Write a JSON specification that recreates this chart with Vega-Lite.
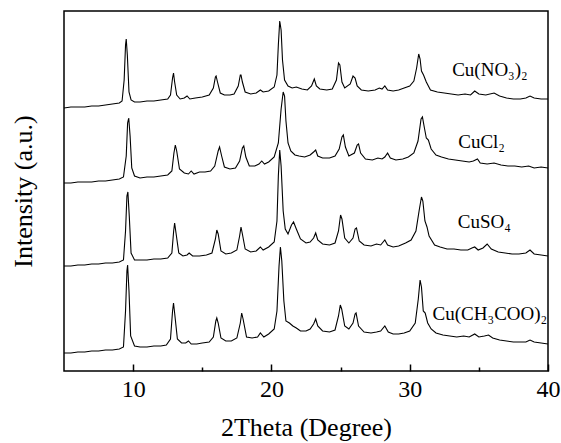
{
  "$schema": "https://vega.github.io/schema/vega-lite/v6.json",
  "width": 484,
  "height": 360,
  "autosize": {"type": "none"},
  "padding": {"left": 64, "top": 11, "right": 13, "bottom": 72},
  "background": "white",
  "config": {
    "font": "Liberation Serif",
    "view": {"stroke": "black", "strokeWidth": 1.5},
    "axis": {"grid": false, "domain": false, "labelFont": "Liberation Serif", "titleFont": "Liberation Serif", "labelColor": "black", "titleColor": "black", "titleFontWeight": "normal"}
  },
  "datasets": {
    "xrd": [
      {"s":"a","x":5.0,"y":263},{"s":"a","x":5.5,"y":264},{"s":"a","x":6.0,"y":264},{"s":"a","x":6.5,"y":264},{"s":"a","x":7.0,"y":265},{"s":"a","x":7.5,"y":265},{"s":"a","x":8.0,"y":266},{"s":"a","x":8.5,"y":267},{"s":"a","x":9.0,"y":268},{"s":"a","x":9.2,"y":270},{"s":"a","x":9.35,"y":291},{"s":"a","x":9.45,"y":326},{"s":"a","x":9.5,"y":332},{"s":"a","x":9.58,"y":316},{"s":"a","x":9.7,"y":279},{"s":"a","x":9.85,"y":271},{"s":"a","x":10.1,"y":269},{"s":"a","x":10.5,"y":269},{"s":"a","x":11.0,"y":270},{"s":"a","x":11.5,"y":270},{"s":"a","x":12.0,"y":271},{"s":"a","x":12.5,"y":272},{"s":"a","x":12.7,"y":276},{"s":"a","x":12.85,"y":293},{"s":"a","x":12.92,"y":298},{"s":"a","x":13.0,"y":289},{"s":"a","x":13.15,"y":276},{"s":"a","x":13.4,"y":272},{"s":"a","x":13.7,"y":273},{"s":"a","x":13.9,"y":275},{"s":"a","x":14.1,"y":272},{"s":"a","x":14.5,"y":273},{"s":"a","x":15.0,"y":274},{"s":"a","x":15.5,"y":276},{"s":"a","x":15.8,"y":283},{"s":"a","x":15.95,"y":294},{"s":"a","x":16.0,"y":295},{"s":"a","x":16.1,"y":289},{"s":"a","x":16.3,"y":278},{"s":"a","x":16.6,"y":276},{"s":"a","x":17.0,"y":276},{"s":"a","x":17.3,"y":277},{"s":"a","x":17.6,"y":285},{"s":"a","x":17.75,"y":296},{"s":"a","x":17.8,"y":296},{"s":"a","x":17.9,"y":289},{"s":"a","x":18.1,"y":279},{"s":"a","x":18.5,"y":277},{"s":"a","x":18.9,"y":278},{"s":"a","x":19.2,"y":281},{"s":"a","x":19.4,"y":279},{"s":"a","x":19.8,"y":280},{"s":"a","x":20.2,"y":284},{"s":"a","x":20.4,"y":296},{"s":"a","x":20.5,"y":326},{"s":"a","x":20.6,"y":350},{"s":"a","x":20.7,"y":341},{"s":"a","x":20.8,"y":311},{"s":"a","x":20.95,"y":291},{"s":"a","x":21.2,"y":285},{"s":"a","x":21.5,"y":283},{"s":"a","x":21.8,"y":284},{"s":"a","x":22.2,"y":282},{"s":"a","x":22.6,"y":281},{"s":"a","x":22.9,"y":285},{"s":"a","x":23.1,"y":292},{"s":"a","x":23.25,"y":285},{"s":"a","x":23.5,"y":282},{"s":"a","x":24.0,"y":281},{"s":"a","x":24.4,"y":282},{"s":"a","x":24.7,"y":291},{"s":"a","x":24.85,"y":308},{"s":"a","x":24.95,"y":306},{"s":"a","x":25.1,"y":289},{"s":"a","x":25.3,"y":283},{"s":"a","x":25.7,"y":287},{"s":"a","x":25.9,"y":295},{"s":"a","x":26.05,"y":293},{"s":"a","x":26.2,"y":285},{"s":"a","x":26.5,"y":281},{"s":"a","x":27.0,"y":280},{"s":"a","x":27.5,"y":281},{"s":"a","x":27.8,"y":283},{"s":"a","x":28.0,"y":282},{"s":"a","x":28.2,"y":285},{"s":"a","x":28.4,"y":281},{"s":"a","x":28.8,"y":280},{"s":"a","x":29.2,"y":281},{"s":"a","x":29.6,"y":283},{"s":"a","x":30.0,"y":285},{"s":"a","x":30.3,"y":290},{"s":"a","x":30.5,"y":303},{"s":"a","x":30.65,"y":317},{"s":"a","x":30.75,"y":312},{"s":"a","x":30.85,"y":300},{"s":"a","x":31.0,"y":296},{"s":"a","x":31.2,"y":289},{"s":"a","x":31.5,"y":281},{"s":"a","x":32.0,"y":279},{"s":"a","x":32.5,"y":278},{"s":"a","x":33.0,"y":277},{"s":"a","x":33.5,"y":276},{"s":"a","x":34.0,"y":277},{"s":"a","x":34.4,"y":276},{"s":"a","x":34.7,"y":280},{"s":"a","x":35.0,"y":277},{"s":"a","x":35.5,"y":276},{"s":"a","x":36.1,"y":278},{"s":"a","x":36.5,"y":275},{"s":"a","x":37.0,"y":273},{"s":"a","x":37.5,"y":272},{"s":"a","x":38.0,"y":272},{"s":"a","x":38.4,"y":273},{"s":"a","x":38.7,"y":275},{"s":"a","x":39.0,"y":273},{"s":"a","x":39.5,"y":272},{"s":"a","x":40.0,"y":272},

      {"s":"b","x":5.0,"y":188},{"s":"b","x":5.5,"y":188},{"s":"b","x":6.0,"y":189},{"s":"b","x":6.5,"y":189},{"s":"b","x":7.0,"y":189},{"s":"b","x":7.5,"y":190},{"s":"b","x":8.0,"y":190},{"s":"b","x":8.5,"y":191},{"s":"b","x":9.0,"y":192},{"s":"b","x":9.3,"y":194},{"s":"b","x":9.5,"y":215},{"s":"b","x":9.6,"y":248},{"s":"b","x":9.68,"y":253},{"s":"b","x":9.78,"y":235},{"s":"b","x":9.9,"y":203},{"s":"b","x":10.1,"y":195},{"s":"b","x":10.5,"y":193},{"s":"b","x":11.0,"y":194},{"s":"b","x":11.5,"y":194},{"s":"b","x":12.0,"y":195},{"s":"b","x":12.5,"y":196},{"s":"b","x":12.8,"y":200},{"s":"b","x":12.95,"y":218},{"s":"b","x":13.05,"y":226},{"s":"b","x":13.15,"y":220},{"s":"b","x":13.35,"y":202},{"s":"b","x":13.7,"y":198},{"s":"b","x":14.0,"y":197},{"s":"b","x":14.2,"y":200},{"s":"b","x":14.4,"y":197},{"s":"b","x":14.8,"y":199},{"s":"b","x":15.2,"y":199},{"s":"b","x":15.6,"y":200},{"s":"b","x":15.9,"y":205},{"s":"b","x":16.15,"y":220},{"s":"b","x":16.25,"y":224},{"s":"b","x":16.4,"y":215},{"s":"b","x":16.6,"y":204},{"s":"b","x":17.0,"y":202},{"s":"b","x":17.4,"y":203},{"s":"b","x":17.7,"y":210},{"s":"b","x":17.9,"y":223},{"s":"b","x":18.0,"y":225},{"s":"b","x":18.15,"y":214},{"s":"b","x":18.4,"y":205},{"s":"b","x":18.8,"y":205},{"s":"b","x":19.1,"y":207},{"s":"b","x":19.3,"y":210},{"s":"b","x":19.5,"y":207},{"s":"b","x":19.8,"y":209},{"s":"b","x":20.2,"y":214},{"s":"b","x":20.5,"y":228},{"s":"b","x":20.7,"y":262},{"s":"b","x":20.85,"y":279},{"s":"b","x":20.95,"y":275},{"s":"b","x":21.05,"y":250},{"s":"b","x":21.2,"y":228},{"s":"b","x":21.4,"y":220},{"s":"b","x":21.7,"y":216},{"s":"b","x":22.0,"y":215},{"s":"b","x":22.4,"y":214},{"s":"b","x":22.8,"y":216},{"s":"b","x":23.05,"y":219},{"s":"b","x":23.2,"y":221},{"s":"b","x":23.35,"y":215},{"s":"b","x":23.7,"y":213},{"s":"b","x":24.2,"y":213},{"s":"b","x":24.6,"y":215},{"s":"b","x":24.9,"y":222},{"s":"b","x":25.1,"y":234},{"s":"b","x":25.2,"y":236},{"s":"b","x":25.35,"y":224},{"s":"b","x":25.6,"y":215},{"s":"b","x":26.0,"y":218},{"s":"b","x":26.2,"y":226},{"s":"b","x":26.3,"y":227},{"s":"b","x":26.45,"y":218},{"s":"b","x":26.8,"y":212},{"s":"b","x":27.3,"y":211},{"s":"b","x":27.7,"y":213},{"s":"b","x":28.0,"y":212},{"s":"b","x":28.2,"y":214},{"s":"b","x":28.4,"y":218},{"s":"b","x":28.6,"y":213},{"s":"b","x":29.0,"y":211},{"s":"b","x":29.5,"y":212},{"s":"b","x":29.9,"y":214},{"s":"b","x":30.3,"y":218},{"s":"b","x":30.6,"y":230},{"s":"b","x":30.82,"y":252},{"s":"b","x":30.92,"y":254},{"s":"b","x":31.05,"y":244},{"s":"b","x":31.2,"y":233},{"s":"b","x":31.35,"y":231},{"s":"b","x":31.55,"y":222},{"s":"b","x":31.9,"y":216},{"s":"b","x":32.3,"y":214},{"s":"b","x":32.8,"y":212},{"s":"b","x":33.3,"y":211},{"s":"b","x":33.8,"y":210},{"s":"b","x":34.3,"y":209},{"s":"b","x":34.6,"y":210},{"s":"b","x":34.9,"y":212},{"s":"b","x":35.1,"y":208},{"s":"b","x":35.6,"y":207},{"s":"b","x":36.1,"y":208},{"s":"b","x":36.6,"y":206},{"s":"b","x":37.1,"y":205},{"s":"b","x":37.6,"y":205},{"s":"b","x":38.1,"y":204},{"s":"b","x":38.6,"y":205},{"s":"b","x":39.0,"y":203},{"s":"b","x":39.5,"y":204},{"s":"b","x":40.0,"y":203},

      {"s":"c","x":5.0,"y":105},{"s":"c","x":5.5,"y":105},{"s":"c","x":6.0,"y":106},{"s":"c","x":6.5,"y":106},{"s":"c","x":7.0,"y":107},{"s":"c","x":7.5,"y":107},{"s":"c","x":8.0,"y":108},{"s":"c","x":8.5,"y":108},{"s":"c","x":9.0,"y":109},{"s":"c","x":9.3,"y":111},{"s":"c","x":9.45,"y":140},{"s":"c","x":9.55,"y":175},{"s":"c","x":9.62,"y":179},{"s":"c","x":9.72,"y":155},{"s":"c","x":9.85,"y":118},{"s":"c","x":10.1,"y":111},{"s":"c","x":10.5,"y":111},{"s":"c","x":11.0,"y":111},{"s":"c","x":11.5,"y":112},{"s":"c","x":12.0,"y":112},{"s":"c","x":12.5,"y":113},{"s":"c","x":12.8,"y":118},{"s":"c","x":12.93,"y":140},{"s":"c","x":13.0,"y":148},{"s":"c","x":13.1,"y":138},{"s":"c","x":13.3,"y":118},{"s":"c","x":13.6,"y":115},{"s":"c","x":13.9,"y":116},{"s":"c","x":14.05,"y":118},{"s":"c","x":14.3,"y":115},{"s":"c","x":14.8,"y":115},{"s":"c","x":15.3,"y":116},{"s":"c","x":15.7,"y":118},{"s":"c","x":15.95,"y":132},{"s":"c","x":16.05,"y":141},{"s":"c","x":16.15,"y":137},{"s":"c","x":16.35,"y":120},{"s":"c","x":16.7,"y":117},{"s":"c","x":17.1,"y":118},{"s":"c","x":17.5,"y":121},{"s":"c","x":17.7,"y":135},{"s":"c","x":17.8,"y":144},{"s":"c","x":17.9,"y":137},{"s":"c","x":18.1,"y":122},{"s":"c","x":18.5,"y":119},{"s":"c","x":18.9,"y":120},{"s":"c","x":19.2,"y":124},{"s":"c","x":19.4,"y":121},{"s":"c","x":19.8,"y":124},{"s":"c","x":20.2,"y":129},{"s":"c","x":20.4,"y":150},{"s":"c","x":20.5,"y":195},{"s":"c","x":20.6,"y":221},{"s":"c","x":20.7,"y":205},{"s":"c","x":20.85,"y":160},{"s":"c","x":21.0,"y":142},{"s":"c","x":21.2,"y":137},{"s":"c","x":21.45,"y":146},{"s":"c","x":21.6,"y":149},{"s":"c","x":21.8,"y":142},{"s":"c","x":22.1,"y":132},{"s":"c","x":22.5,"y":128},{"s":"c","x":22.8,"y":129},{"s":"c","x":23.05,"y":133},{"s":"c","x":23.2,"y":138},{"s":"c","x":23.35,"y":131},{"s":"c","x":23.7,"y":127},{"s":"c","x":24.2,"y":126},{"s":"c","x":24.6,"y":128},{"s":"c","x":24.85,"y":140},{"s":"c","x":25.0,"y":156},{"s":"c","x":25.1,"y":152},{"s":"c","x":25.3,"y":133},{"s":"c","x":25.6,"y":128},{"s":"c","x":25.9,"y":133},{"s":"c","x":26.05,"y":142},{"s":"c","x":26.15,"y":143},{"s":"c","x":26.35,"y":130},{"s":"c","x":26.7,"y":126},{"s":"c","x":27.2,"y":125},{"s":"c","x":27.6,"y":127},{"s":"c","x":27.9,"y":126},{"s":"c","x":28.2,"y":131},{"s":"c","x":28.4,"y":126},{"s":"c","x":28.8,"y":124},{"s":"c","x":29.2,"y":125},{"s":"c","x":29.7,"y":128},{"s":"c","x":30.1,"y":131},{"s":"c","x":30.45,"y":140},{"s":"c","x":30.7,"y":162},{"s":"c","x":30.85,"y":174},{"s":"c","x":30.95,"y":170},{"s":"c","x":31.1,"y":150},{"s":"c","x":31.25,"y":144},{"s":"c","x":31.4,"y":135},{"s":"c","x":31.8,"y":126},{"s":"c","x":32.2,"y":124},{"s":"c","x":32.7,"y":122},{"s":"c","x":33.2,"y":122},{"s":"c","x":33.7,"y":121},{"s":"c","x":34.2,"y":121},{"s":"c","x":34.5,"y":123},{"s":"c","x":34.7,"y":124},{"s":"c","x":34.95,"y":121},{"s":"c","x":35.3,"y":123},{"s":"c","x":35.6,"y":127},{"s":"c","x":35.9,"y":122},{"s":"c","x":36.4,"y":119},{"s":"c","x":36.9,"y":118},{"s":"c","x":37.4,"y":117},{"s":"c","x":37.9,"y":117},{"s":"c","x":38.4,"y":118},{"s":"c","x":38.7,"y":121},{"s":"c","x":39.0,"y":117},{"s":"c","x":39.5,"y":116},{"s":"c","x":40.0,"y":115},

      {"s":"d","x":5.0,"y":18},{"s":"d","x":5.5,"y":18},{"s":"d","x":6.0,"y":19},{"s":"d","x":6.5,"y":19},{"s":"d","x":7.0,"y":20},{"s":"d","x":7.5,"y":20},{"s":"d","x":8.0,"y":21},{"s":"d","x":8.5,"y":21},{"s":"d","x":9.0,"y":22},{"s":"d","x":9.3,"y":24},{"s":"d","x":9.45,"y":60},{"s":"d","x":9.55,"y":100},{"s":"d","x":9.6,"y":106},{"s":"d","x":9.7,"y":80},{"s":"d","x":9.82,"y":35},{"s":"d","x":10.1,"y":25},{"s":"d","x":10.5,"y":24},{"s":"d","x":11.0,"y":24},{"s":"d","x":11.5,"y":25},{"s":"d","x":12.0,"y":25},{"s":"d","x":12.4,"y":26},{"s":"d","x":12.7,"y":32},{"s":"d","x":12.85,"y":60},{"s":"d","x":12.92,"y":68},{"s":"d","x":13.0,"y":58},{"s":"d","x":13.2,"y":32},{"s":"d","x":13.5,"y":28},{"s":"d","x":13.8,"y":28},{"s":"d","x":14.0,"y":30},{"s":"d","x":14.2,"y":27},{"s":"d","x":14.6,"y":27},{"s":"d","x":15.0,"y":28},{"s":"d","x":15.5,"y":29},{"s":"d","x":15.8,"y":34},{"s":"d","x":15.98,"y":50},{"s":"d","x":16.05,"y":53},{"s":"d","x":16.15,"y":48},{"s":"d","x":16.35,"y":33},{"s":"d","x":16.7,"y":30},{"s":"d","x":17.1,"y":30},{"s":"d","x":17.5,"y":33},{"s":"d","x":17.75,"y":48},{"s":"d","x":17.85,"y":58},{"s":"d","x":17.95,"y":52},{"s":"d","x":18.2,"y":34},{"s":"d","x":18.6,"y":33},{"s":"d","x":19.0,"y":34},{"s":"d","x":19.2,"y":38},{"s":"d","x":19.45,"y":34},{"s":"d","x":19.8,"y":37},{"s":"d","x":20.2,"y":42},{"s":"d","x":20.4,"y":60},{"s":"d","x":20.55,"y":105},{"s":"d","x":20.65,"y":124},{"s":"d","x":20.75,"y":110},{"s":"d","x":20.9,"y":70},{"s":"d","x":21.05,"y":50},{"s":"d","x":21.3,"y":48},{"s":"d","x":21.55,"y":45},{"s":"d","x":21.8,"y":43},{"s":"d","x":22.1,"y":40},{"s":"d","x":22.5,"y":40},{"s":"d","x":22.8,"y":42},{"s":"d","x":23.05,"y":47},{"s":"d","x":23.2,"y":52},{"s":"d","x":23.35,"y":45},{"s":"d","x":23.7,"y":40},{"s":"d","x":24.2,"y":39},{"s":"d","x":24.6,"y":41},{"s":"d","x":24.85,"y":55},{"s":"d","x":24.98,"y":66},{"s":"d","x":25.08,"y":62},{"s":"d","x":25.3,"y":45},{"s":"d","x":25.6,"y":42},{"s":"d","x":25.9,"y":48},{"s":"d","x":26.05,"y":57},{"s":"d","x":26.12,"y":58},{"s":"d","x":26.3,"y":45},{"s":"d","x":26.7,"y":39},{"s":"d","x":27.2,"y":38},{"s":"d","x":27.6,"y":39},{"s":"d","x":27.9,"y":40},{"s":"d","x":28.2,"y":45},{"s":"d","x":28.45,"y":39},{"s":"d","x":28.8,"y":37},{"s":"d","x":29.2,"y":37},{"s":"d","x":29.6,"y":38},{"s":"d","x":30.0,"y":40},{"s":"d","x":30.4,"y":48},{"s":"d","x":30.62,"y":72},{"s":"d","x":30.75,"y":91},{"s":"d","x":30.85,"y":84},{"s":"d","x":30.98,"y":60},{"s":"d","x":31.12,"y":58},{"s":"d","x":31.3,"y":48},{"s":"d","x":31.55,"y":42},{"s":"d","x":31.9,"y":38},{"s":"d","x":32.4,"y":36},{"s":"d","x":32.9,"y":35},{"s":"d","x":33.4,"y":34},{"s":"d","x":33.9,"y":35},{"s":"d","x":34.3,"y":34},{"s":"d","x":34.7,"y":37},{"s":"d","x":35.0,"y":34},{"s":"d","x":35.4,"y":35},{"s":"d","x":35.7,"y":36},{"s":"d","x":36.0,"y":33},{"s":"d","x":36.5,"y":31},{"s":"d","x":37.0,"y":30},{"s":"d","x":37.5,"y":29},{"s":"d","x":38.0,"y":29},{"s":"d","x":38.4,"y":29},{"s":"d","x":38.7,"y":31},{"s":"d","x":39.0,"y":29},{"s":"d","x":39.5,"y":28},{"s":"d","x":40.0,"y":27}
    ],
    "labels": [
      {"t": "Cu(NO₃)₂", "x": 35.8, "y": 301},
      {"t": "CuCl₂", "x": 35.2, "y": 229},
      {"t": "CuSO₄", "x": 35.4, "y": 149},
      {"t": "Cu(CH₃COO)₂", "x": 35.8, "y": 57}
    ]
  },
  "layer": [
    {
      "data": {"name": "xrd"},
      "mark": {"type": "line", "color": "black", "strokeWidth": 1.1, "clip": true},
      "encoding": {
        "x": {
          "field": "x", "type": "quantitative",
          "scale": {"domain": [5, 40], "nice": false, "zero": false},
          "axis": {
            "title": "2Theta (Degree)",
            "values": [10, 15, 20, 25, 30, 35, 40],
            "labelExpr": "datum.value % 10 === 0 ? datum.label : ''",
            "labelFontSize": 24,
            "titleFontSize": 26,
            "tickColor": "black",
            "tickWidth": 1.5,
            "tickSize": {"condition": {"test": "datum.value % 10 !== 0", "value": -4}, "value": -7},
            "labelPadding": 13,
            "titlePadding": 10,
            "labelFlush": false,
            "labelOverlap": false
          }
        },
        "y": {
          "field": "y", "type": "quantitative",
          "scale": {"domain": [0, 360], "nice": false},
          "axis": {
            "title": "Intensity (a.u.)",
            "labels": false,
            "ticks": false,
            "titleFontSize": 26,
            "titlePadding": 28
          }
        },
        "detail": {"field": "s", "type": "nominal"}
      }
    },
    {
      "data": {"name": "labels"},
      "mark": {"type": "text", "font": "Liberation Serif", "fontSize": 19, "color": "black", "align": "center", "baseline": "middle"},
      "encoding": {
        "x": {"field": "x", "type": "quantitative"},
        "y": {"field": "y", "type": "quantitative"},
        "text": {"field": "t", "type": "nominal"}
      }
    }
  ]
}
